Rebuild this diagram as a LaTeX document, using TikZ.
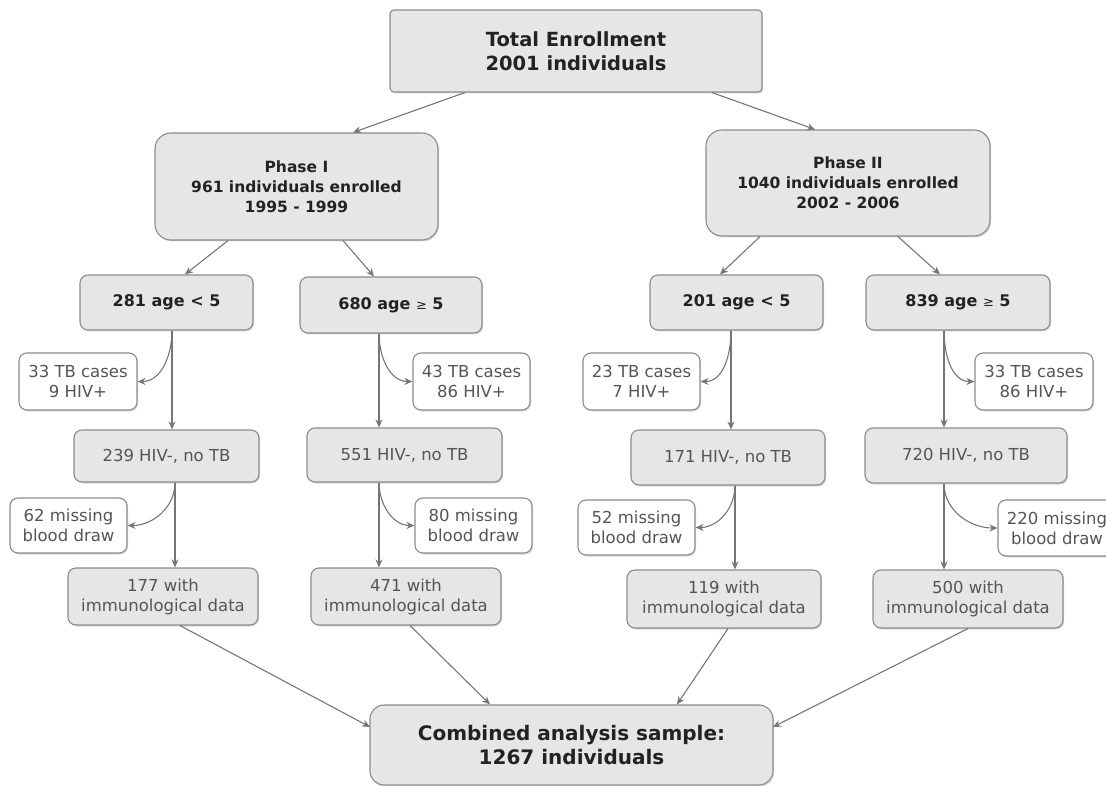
\documentclass[tikz,border=0pt]{standalone}
\usepackage{fontspec}
\setmainfont{DejaVu Sans}
\usetikzlibrary{arrows.meta,shadows}
\definecolor{boxfill}{HTML}{E6E6E6}
\definecolor{boxdraw}{HTML}{8C8C8C}
\definecolor{linecol}{HTML}{767676}
\definecolor{txtdark}{HTML}{222222}
\definecolor{txtgray}{HTML}{555555}
\tikzset{
  base/.style={draw=boxdraw, line width=1.1pt, align=center, inner sep=0pt,
    drop shadow={shadow xshift=1.2pt, shadow yshift=-1.5pt, opacity=0.3}},
  bigbox/.style={base, fill=boxfill, text=txtdark, font=\bfseries\fontsize{19.5}{24}\selectfont},
  phasebox/.style={base, fill=boxfill, text=txtdark, rounded corners=16pt, font=\bfseries\fontsize{15.5}{20}\selectfont},
  agebox/.style={base, fill=boxfill, text=txtdark, rounded corners=8pt, font=\bfseries\fontsize{16}{20}\selectfont},
  graybox/.style={base, fill=boxfill, text=txtgray, rounded corners=8pt, font=\fontsize{16.5}{20}\selectfont},
  sidebox/.style={base, fill=white, text=txtgray, rounded corners=8pt, font=\fontsize{16.5}{20}\selectfont},
  arr/.style={draw=linecol, line width=1.1pt, -{Stealth[length=8pt,width=7pt]}},
}
\begin{document}
\begin{tikzpicture}[x=1pt,y=-1pt]
\useasboundingbox (0,0) rectangle (1106,786);
\clip (0,0) rectangle (1106,786);
% top
\node[bigbox, rounded corners=4pt, minimum width=372pt, minimum height=82pt] (top) at (576,51) {Total Enrollment\\2001 individuals};
\node[phasebox, minimum width=283pt, minimum height=107pt] (p1) at (296.5,186.5) {Phase I\\961 individuals enrolled\\1995 - 1999};
\node[phasebox, minimum width=284pt, minimum height=106pt] (p2) at (848,183) {Phase II\\1040 individuals enrolled\\2002 - 2006};
% age boxes
\node[agebox, minimum width=173pt, minimum height=55pt] (a1) at (166.5,302.5) {281 age < 5};
\node[agebox, minimum width=182pt, minimum height=56pt] (a2) at (391,305) {680 age {\mdseries\fontsize{13}{14}\selectfont≥} 5};
\node[agebox, minimum width=173pt, minimum height=55pt] (a3) at (736.5,302.5) {201 age < 5};
\node[agebox, minimum width=184pt, minimum height=55pt] (a4) at (958,302.5) {839 age {\mdseries\fontsize{13}{14}\selectfont≥} 5};
% TB boxes
\node[sidebox, minimum width=118pt, minimum height=57pt] (t1) at (78,381.5) {33 TB cases\\9 HIV+};
\node[sidebox, minimum width=117pt, minimum height=57pt] (t2) at (471.5,381.5) {43 TB cases\\86 HIV+};
\node[sidebox, minimum width=117pt, minimum height=57pt] (t3) at (641.5,381.5) {23 TB cases\\7 HIV+};
\node[sidebox, minimum width=118pt, minimum height=57pt] (t4) at (1034,381.5) {33 TB cases\\86 HIV+};
% HIV- boxes
\node[graybox, minimum width=185pt, minimum height=52pt] (h1) at (166.5,456) {239 HIV-, no TB};
\node[graybox, minimum width=195pt, minimum height=54pt] (h2) at (404.5,455) {551 HIV-, no TB};
\node[graybox, minimum width=194pt, minimum height=55pt] (h3) at (728,457.5) {171 HIV-, no TB};
\node[graybox, minimum width=202pt, minimum height=55pt] (h4) at (966,455.5) {720 HIV-, no TB};
% missing boxes
\node[sidebox, minimum width=117pt, minimum height=55pt] (m1) at (68.5,525.5) {62 missing\\blood draw};
\node[sidebox, minimum width=117pt, minimum height=55pt] (m2) at (473.5,525.5) {80 missing\\blood draw};
\node[sidebox, minimum width=117pt, minimum height=55pt] (m3) at (636.5,527.5) {52 missing\\blood draw};
\node[sidebox, minimum width=118pt, minimum height=56pt] (m4) at (1057,528) {220 missing\\blood draw};
% data boxes
\node[graybox, minimum width=190pt, minimum height=57pt] (d1) at (163,596.5) {177 with\\immunological data};
\node[graybox, minimum width=190pt, minimum height=57pt] (d2) at (406,596.5) {471 with\\immunological data};
\node[graybox, minimum width=194pt, minimum height=58pt] (d3) at (724,599) {119 with\\immunological data};
\node[graybox, minimum width=190pt, minimum height=58pt] (d4) at (968,599) {500 with\\immunological data};
% combined
\node[bigbox, rounded corners=14pt, font=\bfseries\fontsize{20}{24}\selectfont, minimum width=403pt, minimum height=80pt] (comb) at (571.5,745) {Combined analysis sample:\\1267 individuals};

% column lines
\coordinate (l1) at (172,0);
\coordinate (l2) at (379,0);
\coordinate (l3) at (731,0);
\coordinate (l4) at (944,0);
\coordinate (k1) at (175,0);
\coordinate (k2) at (379,0);
\coordinate (k3) at (735,0);
\coordinate (k4) at (944,0);

% top-level arrows
\coordinate (tl) at (465,0);
\coordinate (tr) at (712,0);
\coordinate (p1t) at (353,0);
\coordinate (p2t) at (815,0);
\draw[arr] (top.south -| tl) -- (p1.north -| p1t);
\draw[arr] (top.south -| tr) -- (p2.north -| p2t);
\coordinate (p1a) at (228,0); \coordinate (a1t) at (185,0);
\coordinate (p1b) at (343,0); \coordinate (a2t) at (374,0);
\coordinate (p2a) at (760,0); \coordinate (a3t) at (720,0);
\coordinate (p2b) at (898,0); \coordinate (a4t) at (940,0);
\draw[arr] (p1.south -| p1a) -- (a1.north -| a1t);
\draw[arr] (p1.south -| p1b) -- (a2.north -| a2t);
\draw[arr] (p2.south -| p2a) -- (a3.north -| a3t);
\draw[arr] (p2.south -| p2b) -- (a4.north -| a4t);

% verticals
\draw[arr] (a1.south -| l1) -- (h1.north -| l1);
\draw[arr] (a2.south -| l2) -- (h2.north -| l2);
\draw[arr] (a3.south -| l3) -- (h3.north -| l3);
\draw[arr] (a4.south -| l4) -- (h4.north -| l4);
\draw[arr] (h1.south -| k1) -- (d1.north -| k1);
\draw[arr] (h2.south -| k2) -- (d2.north -| k2);
\draw[arr] (h3.south -| k3) -- (d3.north -| k3);
\draw[arr] (h4.south -| k4) -- (d4.north -| k4);

% curved side arrows
\draw[arr] (a1.south -| l1) to[out=-90,in=0] (t1.east);
\draw[arr] (a2.south -| l2) to[out=-90,in=180] (t2.west);
\draw[arr] (a3.south -| l3) to[out=-90,in=0] (t3.east);
\draw[arr] (a4.south -| l4) to[out=-90,in=180] (t4.west);
\draw[arr] (h1.south -| k1) to[out=-90,in=0] (m1.east);
\draw[arr] (h2.south -| k2) to[out=-90,in=180] (m2.west);
\draw[arr] (h3.south -| k3) to[out=-90,in=0] (m3.east);
\draw[arr] (h4.south -| k4) to[out=-90,in=180] (m4.west);

% to combined
\coordinate (c1) at (370,727);
\coordinate (c2) at (490,0);
\coordinate (c3) at (677,0);
\coordinate (c4) at (773,727);
\coordinate (d1b) at (180,0);
\coordinate (d2b) at (410,0);
\coordinate (d3b) at (728,0);
\coordinate (d4b) at (968,0);
\draw[arr] (d1.south -| d1b) -- (c1);
\draw[arr] (d2.south -| d2b) -- (comb.north -| c2);
\draw[arr] (d3.south -| d3b) -- (comb.north -| c3);
\draw[arr] (d4.south -| d4b) -- (c4);
\end{tikzpicture}
\end{document}
